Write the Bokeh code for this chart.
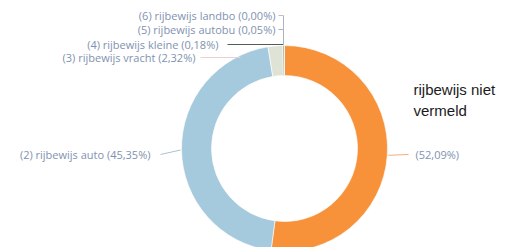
import numpy as np
from bokeh.plotting import figure
from bokeh.models import Range1d
from bokeh.core.properties import value
from bokeh.embed import file_html
from bokeh.resources import INLINE

# ---- data ----
categories = ["rijbewijs niet vermeld", "(2) rijbewijs auto", "(3) rijbewijs vracht",
              "(4) rijbewijs kleine", "(5) rijbewijs autobu", "(6) rijbewijs landbo"]
percentages = [52.09, 45.35, 2.32, 0.18, 0.05, 0.00]
colors = ["#F7923A", "#A5CADD", "#DFE3D6", "#3F5A47", "#9DB3C6", "#C7A2A8"]

def fmt(v):
    return ("%.2f" % v).replace(".", ",") + "%"

labels = ["(" + fmt(percentages[0]) + ")"] + ["%s (%s)" % (c, fmt(v)) for c, v in zip(categories[1:], percentages[1:])]

# ---- layout (pixel-like data coordinates: x = px, y = 247 - py) ----
W, H = 512, 247
CX, CY = 284, 99
R_OUT, R_IN = 103, 73
FONT = "Open Sans"
LABEL_COLOR = "#8192B0"

p = figure(width=W, height=H, output_backend="svg", toolbar_location=None,
           x_range=Range1d(0, W), y_range=Range1d(0, H),
           min_border=0, outline_line_color=None, background_fill_color="white")
p.axis.visible = False
p.grid.visible = False

vals = np.array(percentages) / 100.0
ang = vals * 2 * np.pi
start = np.pi / 2 - np.concatenate([[0], np.cumsum(ang)[:-1]])
end = start - ang
keep = ang > 0
p.annular_wedge(x=CX, y=CY, inner_radius=R_IN, outer_radius=R_OUT,
                start_angle=list(start[keep]), end_angle=list(end[keep]), direction="clock",
                fill_color=[c for c, k in zip(colors, keep) if k], line_color="white", line_width=0.6)

mid = (start + end) / 2
ax = CX + R_OUT * np.cos(mid)
ay = CY + R_OUT * np.sin(mid)

# label anchors (layout)
lab_x = [415, 150, 195, 218, 275, 275]
lab_y = [247 - 154, 247 - 154, 247 - 57, 247 - 44, 247 - 29, 247 - 15]
align = ["left", "right", "right", "right", "right", "right"]

# leader lines
p.line([ax[0] + 1, lab_x[0] - 7], [ay[0], lab_y[0]], line_color="#F2B07A", line_width=1)
p.line([ax[1] - 1, lab_x[1] + 10], [ay[1], lab_y[1]], line_color="#A9C3D3", line_width=1)
p.line([lab_x[2] + 5, 240], [lab_y[2], lab_y[2]], line_color="#EBCFD3", line_width=1)
bx = 283
p.line([lab_x[3] + 9, bx], [lab_y[3], lab_y[3]], line_color="#4F5F55", line_width=1)
p.line([bx, bx], [lab_y[5], lab_y[3]], line_color="#A9B4C3", line_width=1)
p.line([lab_x[4] + 3, bx], [lab_y[4], lab_y[4]], line_color="#A9B4C3", line_width=1)
p.line([lab_x[5] + 3, bx], [lab_y[5], lab_y[5]], line_color="#D6B4BA", line_width=1)

for i in range(len(labels)):
    p.text(x=[lab_x[i]], y=[lab_y[i]], text=[labels[i]], text_align=align[i],
           text_baseline="middle", text_font=value(FONT), text_font_size="11px",
           text_color=LABEL_COLOR)

name_lines = ["rijbewijs niet", "vermeld"]
p.text(x=[413, 413], y=[247 - 89, 247 - 110], text=name_lines, text_align="left",
       text_baseline="middle", text_font=value("Liberation Sans"), text_font_size="15px",
       text_color="#1a1a1a")

open("out.html", "w").write(file_html(p, INLINE))
